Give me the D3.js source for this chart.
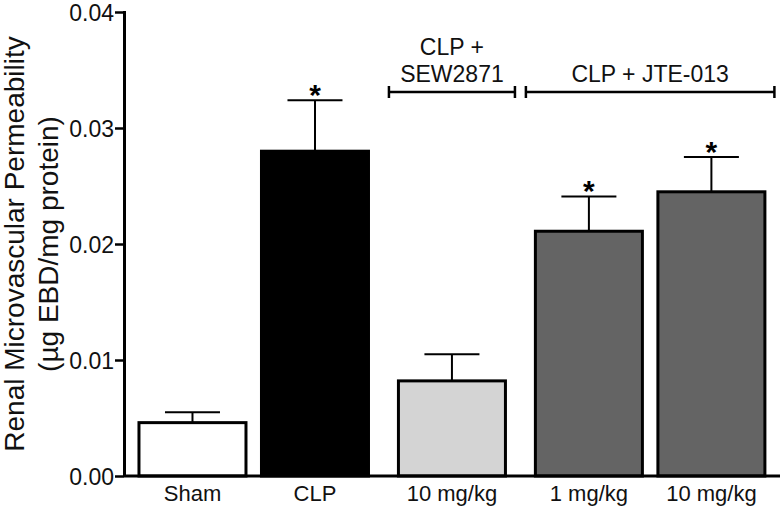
<!DOCTYPE html>
<html>
<head>
<meta charset="utf-8">
<script src="https://cdn.jsdelivr.net/npm/d3@7"></script>
<style>
  body { margin: 0; background: #fff; }
  svg { display: block; font-family: 'Liberation Sans', Arial, sans-serif; }
</style>
</head>
<body>
<div id="chart"></div>
<script>
// Bar labels, treatment group, mean and SEM (µg EBD/mg protein)
const labels = ['Sham', 'CLP', '10 mg/kg', '1 mg/kg', '10 mg/kg'];
const groups = ['none', 'none', 'SEW2871', 'JTE-013', 'JTE-013'];
const means = [0.0046, 0.0280, 0.0082, 0.0211, 0.0245];
const sems = [0.0009, 0.0044, 0.0023, 0.0030, 0.0030];
const significant = [false, true, false, true, true];
const fills = ['#ffffff', '#000000', '#d4d4d4', '#646464', '#646464'];

// Group brackets above the bars
const bracketGroups = ['SEW2871', 'JTE-013'];
const bracketText = [['CLP +', 'SEW2871'], ['CLP + JTE-013']];

const yTicks = [0, 0.01, 0.02, 0.03, 0.04];

const width = 780;
const height = 507;
const margin = { top: 12, right: 0, bottom: 31, left: 124 };

const svg = d3.select('#chart')
  .append('svg')
  .attr('width', width)
  .attr('height', height);

// Each bar sits in a slot; a change of group adds a small extra gap
const groupGap = 0.118;
const barRatio = 0.898;
let gi = 0;
const slots = labels.map((d, i) => {
  if (i > 0 && groups[i] !== groups[i - 1]) gi += 1;
  return i + gi * groupGap;
});

const x = d3.scaleLinear()
  .domain([-0.11, 5.245])
  .range([margin.left, width - margin.right]);
const barW = x(barRatio) - x(0);

const y = d3.scaleLinear()
  .domain([0, 0.04])
  .range([height - margin.bottom, margin.top]);

const bars = labels.map((label, i) => ({
  label,
  group: groups[i],
  mean: means[i],
  sem: sems[i],
  sig: significant[i],
  fill: fills[i],
  x0: x(slots[i]),
}));

// Bars
svg.append('g')
  .selectAll('rect')
  .data(bars)
  .enter()
  .append('rect')
  .attr('x', (d) => d.x0 + 1.5)
  .attr('y', (d) => y(d.mean))
  .attr('width', barW - 3)
  .attr('height', (d) => y(0) - y(d.mean))
  .attr('fill', (d) => d.fill)
  .attr('stroke', '#000')
  .attr('stroke-width', 3);

// Upper error bars
const err = svg.append('g')
  .attr('stroke', '#000')
  .attr('stroke-width', 2);
err.selectAll('.stem')
  .data(bars)
  .enter()
  .append('line')
  .attr('x1', (d) => d.x0 + barW / 2)
  .attr('x2', (d) => d.x0 + barW / 2)
  .attr('y1', (d) => y(d.mean))
  .attr('y2', (d) => y(d.mean + d.sem));
err.selectAll('.cap')
  .data(bars)
  .enter()
  .append('line')
  .attr('x1', (d) => d.x0 + barW / 4)
  .attr('x2', (d) => d.x0 + barW * 3 / 4)
  .attr('y1', (d) => y(d.mean + d.sem))
  .attr('y2', (d) => y(d.mean + d.sem));

// Significance stars
svg.append('g')
  .selectAll('text')
  .data(bars.filter((d) => d.sig))
  .enter()
  .append('text')
  .attr('x', (d) => d.x0 + barW / 2)
  .attr('y', (d) => y(d.mean + d.sem) + 5)
  .attr('text-anchor', 'middle')
  .attr('font-size', '30px')
  .attr('font-weight', 'bold')
  .text('*');

// Y axis
const yAxis = svg.append('g')
  .attr('transform', `translate(${margin.left},0)`)
  .call(d3.axisLeft(y).tickValues(yTicks).tickFormat(d3.format('.2f')).tickSize(9).tickPadding(1));
yAxis.select('.domain').attr('stroke-width', 3).attr('d', `M0.5,${y(0.04) - 1}V${y(0)}`);
yAxis.selectAll('.tick line').attr('stroke-width', 2.5);
yAxis.selectAll('.tick text').attr('font-size', '23px').attr('fill', '#111').attr('font-family', null).attr('dy', '0.36em');

// X axis line and labels
svg.append('line')
  .attr('x1', margin.left)
  .attr('x2', width)
  .attr('y1', y(0))
  .attr('y2', y(0))
  .attr('stroke', '#000')
  .attr('stroke-width', 3);
svg.append('g')
  .selectAll('text')
  .data(bars)
  .enter()
  .append('text')
  .attr('x', (d) => d.x0 + barW / 2)
  .attr('y', y(0) + 25)
  .attr('text-anchor', 'middle')
  .attr('font-size', '22px')
  .attr('fill', '#111')
  .text((d) => d.label);

// Y axis title
const title = svg.append('text')
  .attr('transform', `translate(0,${(y(0) + y(0.04)) / 2}) rotate(-90)`)
  .attr('text-anchor', 'middle')
  .attr('font-size', '28px')
  .attr('fill', '#111');
title.append('tspan').attr('x', 0).attr('y', 24).text('Renal Microvascular Permeability');
title.append('tspan').attr('x', 0).attr('y', 58).text('(µg EBD/mg protein)');

// Group brackets
const bracketY = 92;
bracketGroups.forEach((g, k) => {
  const members = bars.filter((d) => d.group === g);
  const left = d3.min(members, (d) => d.x0) - 8;
  const right = d3.max(members, (d) => d.x0 + barW) + 8;
  const b = svg.append('g').attr('stroke', '#000').attr('stroke-width', 2.5);
  b.append('line').attr('x1', left).attr('x2', right).attr('y1', bracketY).attr('y2', bracketY);
  b.append('line').attr('x1', left).attr('x2', left).attr('y1', bracketY - 6).attr('y2', bracketY + 6);
  b.append('line').attr('x1', right).attr('x2', right).attr('y1', bracketY - 6).attr('y2', bracketY + 6);
  const lines = bracketText[k];
  lines.forEach((t, j) => {
    svg.append('text')
      .attr('x', (left + right) / 2)
      .attr('y', bracketY - 10 - (lines.length - 1 - j) * 27)
      .attr('text-anchor', 'middle')
      .attr('font-size', '23px')
      .attr('fill', '#111')
      .text(t);
  });
});
</script>
</body>
</html>
